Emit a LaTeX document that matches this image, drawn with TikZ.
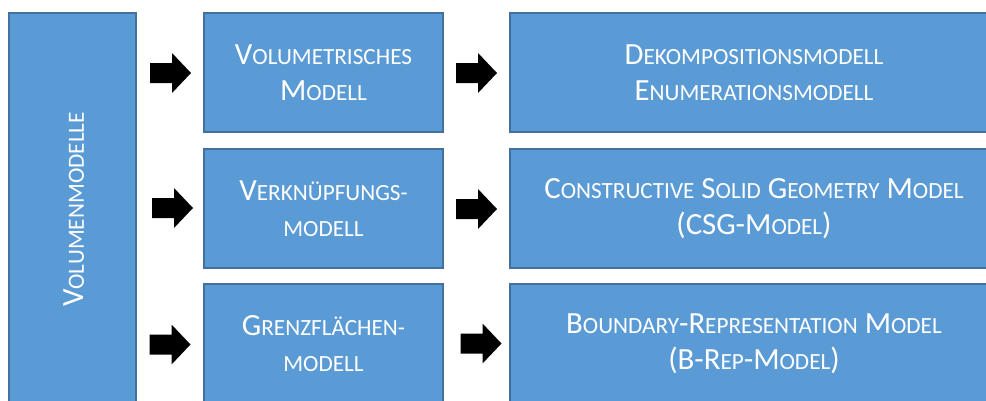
\documentclass[tikz,border=0pt]{standalone}
\usepackage{fontspec}
\setmainfont{Carlito}
\definecolor{boxfill}{HTML}{5B9BD5}
\definecolor{boxline}{HTML}{41719C}
% lower-case letters are set as smaller capitals
\newcommand\smc[1]{{\fontsize{23.2pt}{36pt}\selectfont #1}}
\tikzset{
  modelbox/.style={draw=boxline, fill=boxfill, line width=2pt, rectangle,
    inner sep=0pt, text=white, align=center,
    font=\fontsize{30.8pt}{36pt}\selectfont},
  blockarrow/.pic={\fill[black] (-20.5,-10) -- (1.5,-10) -- (1.5,-20) -- (20.5,0)
    -- (1.5,20) -- (1.5,10) -- (-20.5,10) -- cycle;}
}
\begin{document}
\begin{tikzpicture}[x=1pt, y=-1pt]
  \useasboundingbox (0,0) rectangle (986,400);
  \clip (0,0) rectangle (986,400);

  % overall category
  \node[modelbox, minimum width=127pt, minimum height=390pt] (vol) at (72.5,208)
    {};
  \node[rotate=90, text=white, font=\fontsize{30.8pt}{36pt}\selectfont] (voltext) at (74,209.5)
    {V\smc{OLUMENMODELLE}};

  % model classes
  \node[modelbox, minimum width=239pt, minimum height=119pt] (volu) at (323.5,72.5)
    {V\smc{OLUMETRISCHES}\\M\smc{ODELL}};
  \node[modelbox, minimum width=239pt, minimum height=119pt] (verk) at (323.5,208.5)
    {V\smc{ERKNÜPFUNGS-}\\\smc{MODELL}};
  \node[modelbox, minimum width=239pt, minimum height=119pt] (grenz) at (323.5,343.5)
    {G\smc{RENZFLÄCHEN-}\\\smc{MODELL}};

  % concrete models
  \node[modelbox, minimum width=488pt, minimum height=119pt] (deko) at (754,72.5)
    {D\smc{EKOMPOSITIONSMODELL}\\E\smc{NUMERATIONSMODELL}};
  \node[modelbox, minimum width=488pt, minimum height=119pt] (csg) at (754,208.5)
    {C\smc{ONSTRUCTIVE} S\smc{OLID} G\smc{EOMETRY} M\smc{ODEL}\\(CSG-M\smc{ODEL})};
  \node[modelbox, minimum width=488pt, minimum height=119pt] (brep) at (754,343.5)
    {B\smc{OUNDARY}-R\smc{EPRESENTATION} M\smc{ODEL}\\(B-R\smc{EP}-M\smc{ODEL})};

  % block arrows
  \pic at (170.5,73) {blockarrow};
  \pic at (172.5,208) {blockarrow};
  \pic at (170,344.5) {blockarrow};
  \pic at (476.5,73) {blockarrow};
  \pic at (476.5,209) {blockarrow};
  \pic at (481,343.5) {blockarrow};
\end{tikzpicture}
\end{document}
